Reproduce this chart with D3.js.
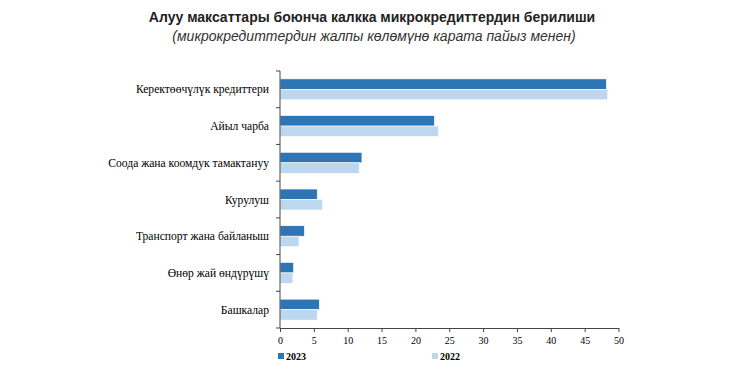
<!DOCTYPE html>
<html lang="ky">
<head>
<meta charset="utf-8">
<title>Алуу максаттары боюнча калкка микрокредиттердин берилиши</title>
<style>
    body { margin: 0; background: #fff; }
    .title { font: bold 14px "Liberation Sans", Arial, sans-serif; fill: #222; }
    .subtitle { font: italic 14px "Liberation Sans", Arial, sans-serif; fill: #333; }
    .cat { font: 11.6px "Liberation Serif", "Times New Roman", serif; fill: #000; }
    .axis text { font: 10px "Liberation Serif", "Times New Roman", serif; fill: #000; }
    .axis path, .axis line { stroke: #444; }
    .legend text { font: bold 10px "Liberation Serif", "Times New Roman", serif; fill: #000; }
</style>
</head>
<body>
<div id="chart"></div>
<script src="https://d3js.org/d3.v7.min.js"></script>
<script>
    var categories = ["Керектөөчүлүк кредиттери", "Айыл чарба", "Соода жана коомдук тамактануу",
        "Курулуш", "Транспорт жана байланыш", "Өнөр жай өндүрүшү", "Башкалар"];
    var values2023 = [48.2, 22.8, 12.1, 5.5, 3.6, 2.0, 5.8];
    var values2022 = [48.4, 23.4, 11.7, 6.3, 2.8, 1.9, 5.5];
    var xTicks = [0, 5, 10, 15, 20, 25, 30, 35, 40, 45, 50];
    var seriesNames = ["2023", "2022"];
    var colors = ["#2E75B6", "#BDD7EE"];

    var width = 756, height = 373;
    var plot = { left: 280, right: 618.5, top: 71, bottom: 328 };

    var svg = d3.select("#chart").append("svg")
        .attr("width", width)
        .attr("height", height);

    svg.append("text").attr("class", "title")
        .attr("x", 372).attr("y", 22).attr("text-anchor", "middle")
        .text("Алуу максаттары боюнча калкка микрокредиттердин берилиши");
    svg.append("text").attr("class", "subtitle")
        .attr("x", 374).attr("y", 41).attr("text-anchor", "middle")
        .text("(микрокредиттердин жалпы көлөмүнө карата пайыз менен)");

    var x = d3.scaleLinear().domain([0, 50]).range([plot.left, plot.right]);
    var y = d3.scaleBand().domain(categories).range([plot.top, plot.bottom]).paddingInner(0.43).paddingOuter(0.215);
    var sub = d3.scaleBand().domain(seriesNames).range([0, y.bandwidth()]);

    var rows = categories.map(function (c, i) {
        return { cat: c, vals: [values2023[i], values2022[i]] };
    });

    var g = svg.selectAll(".row").data(rows).enter().append("g")
        .attr("class", "row")
        .attr("transform", function (d) { return "translate(0," + y(d.cat) + ")"; });

    g.selectAll("rect")
        .data(function (d) { return d.vals.map(function (v, j) { return { v: v, s: seriesNames[j], c: colors[j] }; }); })
        .enter().append("rect")
        .attr("x", x(0))
        .attr("y", function (d) { return sub(d.s); })
        .attr("width", function (d) { return x(d.v) - x(0); })
        .attr("height", sub.bandwidth())
        .attr("fill", function (d) { return d.c; })
        .attr("stroke", "#fff")
        .attr("stroke-width", 0.6);

    // category labels
    svg.selectAll(".cat").data(categories).enter().append("text")
        .attr("class", "cat")
        .attr("x", plot.left - 11)
        .attr("y", function (d) { return y(d) + y.bandwidth() / 2; })
        .attr("dy", "0.35em")
        .attr("text-anchor", "end")
        .text(function (d) { return d; });

    // x axis
    svg.append("g").attr("class", "axis")
        .attr("transform", "translate(0," + plot.bottom + ")")
        .call(d3.axisBottom(x).tickValues(xTicks).tickSize(4).tickSizeOuter(0).tickPadding(5));

    // y axis line with ticks between categories
    var yTickPos = d3.range(categories.length + 1).map(function (i) {
        return plot.top + i * (plot.bottom - plot.top) / categories.length;
    });
    var yAxis = svg.append("g").attr("class", "axis");
    yAxis.append("line").attr("x1", plot.left).attr("x2", plot.left)
        .attr("y1", plot.top).attr("y2", plot.bottom);
    yAxis.selectAll(".yt").data(yTickPos).enter().append("line")
        .attr("class", "yt")
        .attr("x1", plot.left - 4).attr("x2", plot.left)
        .attr("y1", function (d) { return d; }).attr("y2", function (d) { return d; });

    // legend
    var legendX = [278, 432];
    var lg = svg.selectAll(".legend").data(seriesNames).enter().append("g")
        .attr("class", "legend")
        .attr("transform", function (d, i) { return "translate(" + legendX[i] + ",353)"; });
    lg.append("rect").attr("width", 6).attr("height", 6).attr("y", 0)
        .attr("fill", function (d, i) { return colors[i]; });
    lg.append("text").attr("x", 8).attr("y", 6.5).text(function (d) { return d; });
</script>
</body>
</html>
